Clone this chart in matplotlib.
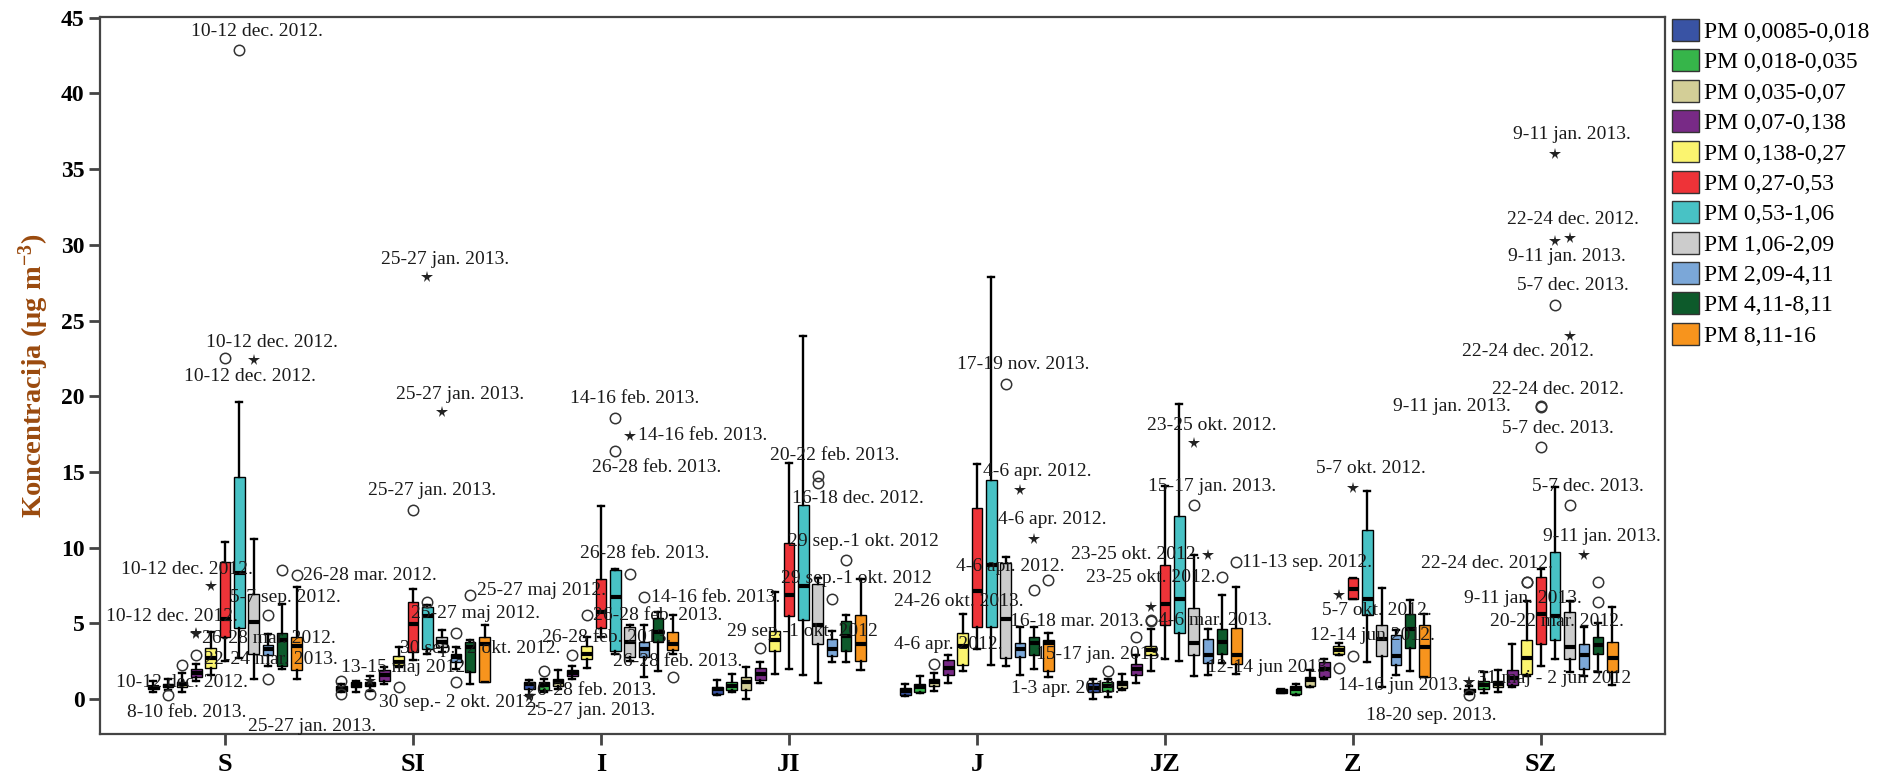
import matplotlib
matplotlib.use("Agg")
import matplotlib.pyplot as plt
from matplotlib.patches import Patch

plt.rcParams["mathtext.fontset"] = "custom"
plt.rcParams["mathtext.rm"] = "Liberation Serif:bold"
plt.rcParams["mathtext.it"] = "Liberation Serif:bold"
plt.rcParams["mathtext.bf"] = "Liberation Serif:bold"

SERIF = "Liberation Serif"

categories = ["S", "SI", "I", "JI", "J", "JZ", "Z", "SZ"]
fractions = ["PM 0,0085-0,018", "PM 0,018-0,035", "PM 0,035-0,07", "PM 0,07-0,138",
             "PM 0,138-0,27", "PM 0,27-0,53", "PM 0,53-1,06", "PM 1,06-2,09",
             "PM 2,09-4,11", "PM 4,11-8,11", "PM 8,11-16"]
colors = ["#3953A4", "#36B54A", "#D3CE97", "#782A86", "#FBF46F", "#EE3338",
          "#48C2C5", "#CCCCCC", "#7BA7D8", "#0D5A2B", "#F7941D"]

# box statistics, one row per category, one column per fraction
whisker_low = [
    [0.47, 0.58, 0.47, 1.18, 1.57, 2.5, 2.7, 1.3, 2.2, 2.0, 1.3],
    [0.5, 0.48, 0.55, 1.03, 2.1, 2.6, 3.0, 3.1, 2.0, 1.03, 1.13],
    [0.26, 0.48, 0.7, 1.36, 2.06, 4.1, 3.0, 2.5, 1.46, 1.84, 3.0],
    [0.25, 0.47, 0.03, 1.1, 1.68, 1.97, 1.57, 1.09, 2.45, 2.45, 1.9],
    [0.2, 0.4, 0.51, 1.08, 1.87, 3.32, 2.27, 2.19, 1.61, 2.0, 1.48],
    [0.03, 0.16, 0.6, 1.08, 1.87, 2.66, 2.5, 1.56, 1.61, 2.4, 1.68],
    [0.4, 0.3, 0.8, 1.3, 2.9, 6.59, 2.45, 0.8, 1.62, 1.84, 1.46],
    [0.35, 0.4, 0.5, 0.8, 1.5, 2.22, 2.65, 1.79, 1.51, 1.79, 0.94],
]
q1 = [
    [0.65, 0.78, 0.8, 1.46, 2.06, 4.1, 4.7, 3.0, 2.95, 2.2, 1.9],
    [0.55, 0.8, 0.85, 1.18, 2.24, 3.1, 3.3, 3.45, 2.46, 1.8, 1.13],
    [0.7, 0.6, 0.87, 1.53, 2.63, 4.7, 3.2, 2.78, 2.78, 3.77, 3.22],
    [0.36, 0.58, 0.58, 1.24, 3.16, 5.49, 5.2, 3.66, 2.85, 3.2, 2.5],
    [0.3, 0.5, 0.87, 1.61, 2.27, 4.76, 4.76, 2.71, 2.79, 2.92, 1.87],
    [0.5, 0.56, 0.77, 1.61, 2.93, 4.9, 4.37, 2.93, 2.4, 2.98, 2.34],
    [0.43, 0.36, 0.87, 1.46, 3.0, 6.59, 5.53, 2.85, 2.28, 3.38, 1.46],
    [0.45, 0.66, 0.8, 0.94, 1.65, 3.64, 3.93, 2.65, 2.02, 2.99, 1.79],
]
median = [
    [0.78, 0.9, 1.0, 1.75, 2.72, 5.3, 8.3, 5.1, 3.3, 3.9, 3.5],
    [0.7, 0.96, 1.0, 1.57, 2.45, 4.98, 5.5, 3.78, 2.8, 3.44, 3.67],
    [1.0, 0.92, 1.13, 1.75, 3.0, 5.75, 6.75, 3.78, 3.33, 4.43, 3.66],
    [0.65, 0.87, 1.13, 1.68, 3.88, 6.85, 7.5, 4.87, 3.33, 4.17, 3.66],
    [0.56, 0.82, 1.14, 2.08, 3.5, 7.13, 8.84, 5.29, 3.32, 3.71, 3.71],
    [0.77, 0.87, 1.0, 2.0, 3.24, 6.29, 6.6, 3.71, 2.93, 3.77, 2.94],
    [0.54, 0.65, 1.24, 2.0, 3.22, 7.29, 6.59, 3.99, 2.85, 4.61, 3.44],
    [0.55, 0.95, 1.0, 1.37, 2.7, 5.63, 5.49, 3.42, 2.93, 3.56, 2.7],
]
q3 = [
    [0.9, 1.0, 1.13, 1.97, 3.38, 9.05, 14.7, 6.96, 3.6, 4.4, 4.1],
    [0.9, 1.13, 1.15, 1.9, 2.85, 6.4, 6.08, 4.1, 3.0, 3.78, 4.1],
    [1.13, 1.13, 1.36, 1.9, 3.5, 7.95, 8.5, 4.77, 3.77, 5.35, 4.43],
    [0.8, 1.13, 1.46, 2.06, 4.47, 10.32, 12.79, 7.62, 3.99, 5.14, 5.53],
    [0.77, 1.0, 1.35, 2.61, 4.37, 12.65, 14.49, 9.02, 3.71, 4.11, 3.92],
    [1.08, 1.14, 1.22, 2.35, 3.5, 8.84, 12.07, 6.03, 3.97, 4.63, 4.69],
    [0.65, 0.87, 1.46, 2.45, 3.51, 7.99, 11.2, 4.91, 4.26, 5.64, 4.91],
    [0.7, 1.23, 1.17, 1.93, 3.93, 8.05, 9.7, 5.77, 3.64, 4.12, 3.78],
]
whisker_high = [
    [1.18, 1.3, 1.7, 2.35, 4.43, 10.37, 19.6, 10.6, 4.3, 6.3, 7.4],
    [1.0, 1.18, 1.5, 2.1, 3.44, 7.3, 6.2, 4.55, 3.44, 3.9, 4.9],
    [1.25, 1.36, 1.9, 2.2, 4.1, 12.75, 8.6, 4.9, 4.87, 5.75, 5.53],
    [1.24, 1.68, 2.12, 2.45, 7.07, 15.6, 24.0, 8.0, 4.47, 5.53, 7.95],
    [1.0, 1.56, 1.74, 2.93, 5.6, 15.5, 27.9, 9.36, 4.76, 4.76, 4.37],
    [1.35, 1.35, 1.66, 2.93, 4.63, 14.1, 19.5, 9.5, 4.63, 6.87, 7.4],
    [0.7, 1.0, 1.9, 2.67, 3.7, 7.99, 13.77, 7.33, 4.6, 6.52, 5.64],
    [0.9, 1.8, 1.93, 3.64, 6.49, 8.6, 14.02, 6.49, 4.78, 5.06, 6.06],
]

# outlying (o) and extreme (*) values: category, fraction, value, kind, label
outliers = [
    (0, 6, 42.85, "o", "10-12 dec. 2012."),
    (0, 5, 22.5, "o", "10-12 dec. 2012."),
    (0, 7, 22.4, "*", "10-12 dec. 2012."),
    (0, 4, 7.47, "*", "10-12 dec. 2012."),
    (0, 3, 4.33, "*", "10-12 dec. 2012."),
    (0, 3, 4.4, "*", "26-28 mar. 2012."),
    (0, 3, 2.9, "o", "22-24 mar. 2013."),
    (0, 2, 2.23, "o", "10-12 dec. 2012."),
    (0, 1, 0.26, "o", "8-10 feb. 2013."),
    (0, 8, 5.57, "o", "5-7 sep. 2012."),
    (0, 8, 1.3, "o", "25-27 jan. 2013."),
    (0, 9, 8.5, "o", ""),
    (0, 10, 8.2, "o", "26-28 mar. 2012."),
    (1, 0, 1.2, "o", ""),
    (1, 0, 0.37, "o", ""),
    (1, 2, 0.37, "o", ""),
    (1, 2, 1.2, "*", "13-15 maj 2012."),
    (1, 4, 0.8, "o", "30 sep.- 2 okt. 2012."),
    (1, 5, 12.5, "o", "25-27 jan. 2013."),
    (1, 6, 27.85, "*", "25-27 jan. 2013."),
    (1, 7, 18.95, "*", "25-27 jan. 2013."),
    (1, 8, 4.4, "o", "30 sep.- 2 okt. 2012."),
    (1, 8, 1.13, "o", ""),
    (1, 9, 6.85, "o", "25-27 maj 2012."),
    (1, 6, 6.4, "o", "25-27 maj 2012."),
    (2, 0, 0.15, "*", "25-27 jan. 2013."),
    (2, 1, 1.84, "o", "26-28 feb. 2013."),
    (2, 3, 2.9, "o", "26-28 feb. 2013."),
    (2, 4, 5.53, "o", "26-28 feb. 2013."),
    (2, 6, 18.6, "o", "14-16 feb. 2013."),
    (2, 6, 16.4, "o", "26-28 feb. 2013."),
    (2, 7, 17.4, "*", "14-16 feb. 2013."),
    (2, 7, 8.28, "o", "26-28 feb. 2013."),
    (2, 8, 6.74, "o", "14-16 feb. 2013."),
    (2, 10, 1.46, "o", "26-28 feb. 2013."),
    (3, 3, 3.37, "o", "29 sep.-1 okt. 2012"),
    (3, 7, 14.76, "o", "20-22 feb. 2013."),
    (3, 7, 14.3, "o", "16-18 dec. 2012."),
    (3, 8, 6.63, "o", "29 sep.-1 okt. 2012"),
    (3, 9, 9.22, "o", "29 sep.-1 okt. 2012"),
    (4, 2, 2.35, "o", "4-6 apr. 2012."),
    (4, 7, 20.8, "o", "17-19 nov. 2013."),
    (4, 8, 13.8, "*", "4-6 apr. 2012."),
    (4, 9, 10.6, "*", "4-6 apr. 2012."),
    (4, 9, 7.18, "o", "4-6 apr. 2012."),
    (4, 10, 7.87, "o", "24-26 okt. 2013."),
    (5, 1, 1.87, "o", "1-3 apr. 2013."),
    (5, 3, 4.12, "o", "15-17 jan. 2013."),
    (5, 4, 5.16, "o", "16-18 mar. 2013."),
    (5, 4, 5.2, "o", "4-6 mar. 2013."),
    (5, 4, 6.08, "*", ""),
    (5, 7, 16.9, "*", "23-25 okt. 2012."),
    (5, 7, 12.8, "o", "15-17 jan. 2013."),
    (5, 8, 9.55, "*", "23-25 okt. 2012."),
    (5, 9, 8.05, "o", "23-25 okt. 2012."),
    (5, 10, 9.05, "o", "11-13 sep. 2012."),
    (6, 4, 2.06, "o", "12-14 jun 2013."),
    (6, 5, 2.85, "o", "12-14 jun 2012."),
    (6, 4, 6.85, "*", "5-7 okt. 2012."),
    (6, 5, 13.93, "*", "5-7 okt. 2012."),
    (7, 0, 1.13, "*", "14-16 jun 2013."),
    (7, 0, 1.15, "*", "31 maj - 2 jun 2012"),
    (7, 0, 0.25, "o", "18-20 sep. 2013."),
    (7, 4, 7.71, "o", "9-11 jan. 2013."),
    (7, 4, 7.75, "o", "22-24 dec. 2012."),
    (7, 5, 19.28, "o", "22-24 dec. 2012."),
    (7, 5, 19.35, "o", "9-11 jan. 2013."),
    (7, 5, 16.64, "o", "5-7 dec. 2013."),
    (7, 6, 35.97, "*", "9-11 jan. 2013."),
    (7, 6, 30.23, "*", "9-11 jan. 2013."),
    (7, 7, 30.45, "*", "22-24 dec. 2012."),
    (7, 6, 26.0, "o", "5-7 dec. 2013."),
    (7, 7, 23.97, "*", "22-24 dec. 2012."),
    (7, 7, 12.83, "o", "5-7 dec. 2013."),
    (7, 8, 9.53, "*", "9-11 jan. 2013."),
    (7, 9, 7.77, "o", ""),
    (7, 9, 6.4, "o", "20-22 mar. 2012."),
]

# where each outlier's label sits: alignment and pixel offset from the marker
label_place = [
    ("center", 18, 19), ("center", 47, 16), ("center", -4, -17), ("center", -24, 17),
    ("center", -24, 17), ("left", 6, -6), ("left", 8, -4), ("center", 0, -17),
    ("center", 19, -17), ("center", 17, 17), ("center", 44, -47), None, ("left", 6, 0),
    None, None, None, ("center", 35, 14), ("left", -20, -15), ("center", 19, 19),
    ("center", 18, 18), ("center", 18, 18), ("left", -56, -16), None, ("left", 7, 5),
    ("center", 48, -11),
    ("center", 62, -14), ("center", 48, -19), ("center", 34, 18), ("left", 6, 0),
    ("center", 19, 19), ("center", 41, -17), ("left", 8, 0), ("center", 15, 20),
    ("left", 7, 0), ("center", 5, 16),
    ("center", 42, 17), ("center", 17, 20), ("center", 40, -16), ("center", 25, 20),
    ("center", 17, 18),
    ("center", 14, 19), ("center", 18, 20), ("center", 17, 19), ("center", 18, 19),
    ("center", -24, 24), ("center", -90, -21),
    ("center", -42, -18), ("center", -36, -18), ("right", -7, 0), ("left", 7, 0), None,
    ("center", 18, 18), ("center", 18, 19), ("right", -7, 0), ("right", -7, 0),
    ("left", 6, 0),
    ("right", -7, 0), ("center", 19, 21), ("center", 38, -15), ("center", 18, 20),
    ("right", -7, -3), ("left", 8, 3), ("center", -38, -20), ("center", -4, -16),
    ("center", -40, 18), ("center", 17, 18), ("right", -30, 0), ("center", 17, 19),
    ("center", 17, 20), ("center", 12, -15), ("center", 3, 19), ("center", 18, 20),
    ("center", -42, -15), ("center", 18, 18), ("center", 18, 18), None,
    ("center", -41, -19),
]

BOX_STEP = 0.0761
BOX_W = 0.056
CAP_W = 0.032

fig = plt.figure(figsize=(18.96, 7.75), dpi=100)
ax = fig.add_axes([100 / 1896, 1 - 734 / 775, 1565 / 1896, 717 / 775])


def xpos(c, s):
    return c + (s - 5) * BOX_STEP


for s in range(len(fractions)):
    stats = []
    for c in range(len(categories)):
        stats.append(dict(whislo=whisker_low[c][s], q1=q1[c][s], med=median[c][s],
                          q3=q3[c][s], whishi=whisker_high[c][s], fliers=[]))
    ax.bxp(stats, positions=[xpos(c, s) for c in range(len(categories))],
           widths=BOX_W, capwidths=CAP_W, patch_artist=True, showfliers=False,
           manage_ticks=False,
           boxprops=dict(facecolor=colors[s], edgecolor="black", linewidth=1.0),
           medianprops=dict(color="black", linewidth=3.0, solid_capstyle="butt"),
           whiskerprops=dict(color="black", linewidth=1.7),
           capprops=dict(color="black", linewidth=1.7))

for (c, s, v, kind, text), place in zip(outliers, label_place):
    x = xpos(c, s)
    if kind == "o":
        ax.plot(x, v, marker="o", ms=7.5, mfc="none", mec="#333333", mew=1.1, zorder=4)
    else:
        ax.plot(x, v, marker="*", ms=8.5, color="#222222", mew=0, zorder=4)
    if text and place:
        ha, dx, dy = place
        ax.annotate(text, (x, v), xytext=(dx, dy), textcoords="offset pixels",
                    ha=ha, va="center", fontsize=14, family=SERIF, color="#1a1a1a",
                    zorder=5)

ax.set_xlim(-0.665, 7.66)
ax.set_ylim(-2.3, 45.05)
ax.set_xticks(range(len(categories)))
ax.set_xticklabels(categories)
ax.set_yticks(range(0, 46, 5))
ax.tick_params(axis="both", direction="out", length=8, width=2, color="#444444")
ax.tick_params(axis="y", pad=3)
ax.tick_params(axis="x", pad=6)
for lbl in ax.get_yticklabels():
    lbl.set_fontfamily(SERIF)
    lbl.set_fontweight("bold")
    lbl.set_fontsize(17)
for lbl in ax.get_xticklabels():
    lbl.set_fontfamily(SERIF)
    lbl.set_fontweight("bold")
    lbl.set_fontsize(19)
for sp in ax.spines.values():
    sp.set_linewidth(1.6)
    sp.set_color("#444444")

ax.set_ylabel("Koncentracija (μg m$^{-3}$)", fontsize=20.5, fontweight="bold",
              family=SERIF, color="#9A4A0E")
ax.yaxis.set_label_coords(-0.031, 0.5)

handles = [Patch(facecolor=col, edgecolor="#333333", linewidth=1.0) for col in colors]
fig.legend(handles, fractions, loc="upper left", bbox_to_anchor=(1672 / 1896, 1 - 19 / 775),
           frameon=False, prop=dict(family=SERIF, size=17), handlelength=1.15,
           handleheight=1.05, handletextpad=0.2, labelspacing=0.27, borderaxespad=0,
           borderpad=0)

fig.savefig("out.png", dpi=100)
